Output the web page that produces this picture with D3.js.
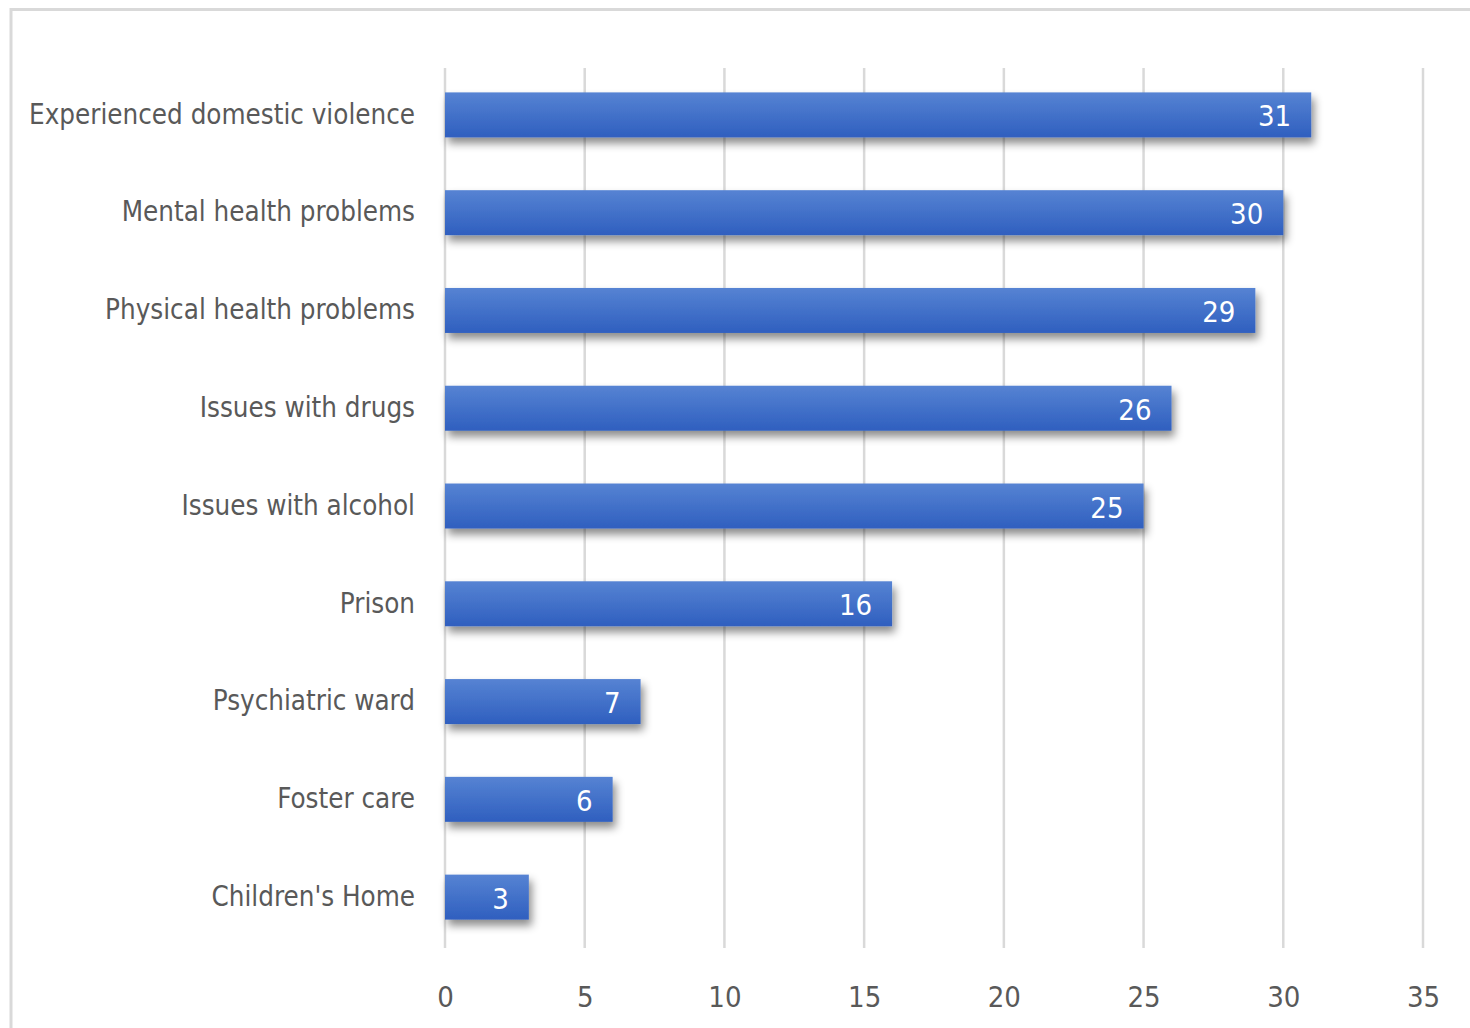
<!DOCTYPE html>
<html lang="en">
    <head>
        <meta charset="utf-8" />
        <title>Horizontal bar chart</title>
        <script type="text/javascript" src="https://cdn.jsdelivr.net/npm/d3@7/dist/d3.min.js"></script>
        <style>
            body { margin: 0; background: #fff; }
            text { font-family: "DejaVu Sans Condensed", sans-serif; }
        </style>
    </head>
    <body>
        <svg width="1470" height="1028"></svg>

        <script type="text/javascript">
            var categories = ['Experienced domestic violence', 'Mental health problems', 'Physical health problems',
                              'Issues with drugs', 'Issues with alcohol', 'Prison', 'Psychiatric ward',
                              'Foster care', "Children's Home"];
            var values = [31, 30, 29, 26, 25, 16, 7, 6, 3];
            var tickValues = [0, 5, 10, 15, 20, 25, 30, 35];

            var svg = d3.select('svg');

            // chart frame
            svg.append('rect')
                .attr('x', 11).attr('y', 9.5)
                .attr('width', 1470).attr('height', 1040)
                .attr('fill', 'none')
                .attr('stroke', '#d9d9d9')
                .attr('stroke-width', 3);

            var defs = svg.append('defs');
            var grad = defs.append('linearGradient')
                .attr('id', 'barGrad')
                .attr('x1', 0).attr('y1', 0).attr('x2', 0).attr('y2', 1);
            grad.append('stop').attr('offset', '0%').attr('stop-color', '#5683d3');
            grad.append('stop').attr('offset', '100%').attr('stop-color', '#2f5fbf');

            var shadow = defs.append('filter')
                .attr('id', 'shadow')
                .attr('x', '-10%').attr('y', '-30%')
                .attr('width', '130%').attr('height', '190%');
            shadow.append('feDropShadow')
                .attr('dx', 3).attr('dy', 6)
                .attr('stdDeviation', 4)
                .attr('flood-color', '#000')
                .attr('flood-opacity', 0.45);

            var x = d3.scaleLinear()
                .domain([0, 35])
                .range([445, 1423]);

            var y = d3.scaleBand()
                .domain(categories)
                .range([66, 946])
                .paddingInner(0.54)
                .paddingOuter(0.27);

            // Gridlines
            svg.append('g')
                .selectAll('line')
                .data(tickValues)
                .enter()
                .append('line')
                .attr('x1', function(d) { return x(d); })
                .attr('x2', function(d) { return x(d); })
                .attr('y1', 68)
                .attr('y2', 948)
                .attr('stroke', '#d9d9d9')
                .attr('stroke-width', 2.5);

            // x axis tick labels
            var xAxis = d3.axisBottom(x)
                .tickValues(tickValues)
                .tickSize(0)
                .tickPadding(0);
            var gx = svg.append('g')
                .attr('transform', 'translate(0, 986)')
                .call(xAxis);
            gx.select('.domain').remove();
            gx.selectAll('text')
                .attr('font-size', 29)
                .attr('fill', '#595959')
                .style('font-family', '"DejaVu Sans Condensed", sans-serif');

            // y axis category labels
            var yAxis = d3.axisLeft(y)
                .tickSize(0)
                .tickPadding(30);
            var gy = svg.append('g')
                .attr('transform', 'translate(445, 0)')
                .call(yAxis);
            gy.select('.domain').remove();
            gy.selectAll('text')
                .attr('font-size', 27.5)
                .attr('fill', '#595959')
                .style('font-family', '"DejaVu Sans Condensed", sans-serif');

            // Bars
            var bars = svg.append('g')
                .selectAll('g')
                .data(values)
                .enter()
                .append('g');

            bars.append('rect')
                .attr('x', x(0))
                .attr('y', function(d, i) { return y(categories[i]); })
                .attr('width', function(d) { return x(d) - x(0); })
                .attr('height', y.bandwidth())
                .attr('fill', 'url(#barGrad)')
                .attr('filter', 'url(#shadow)');

            bars.append('text')
                .attr('x', function(d) { return x(d) - 20; })
                .attr('y', function(d, i) { return y(categories[i]) + y.bandwidth() / 2; })
                .attr('dy', '0.4em')
                .attr('text-anchor', 'end')
                .attr('font-size', 29)
                .attr('fill', '#ffffff')
                .text(function(d) { return d; });
        </script>
    </body>
</html>
